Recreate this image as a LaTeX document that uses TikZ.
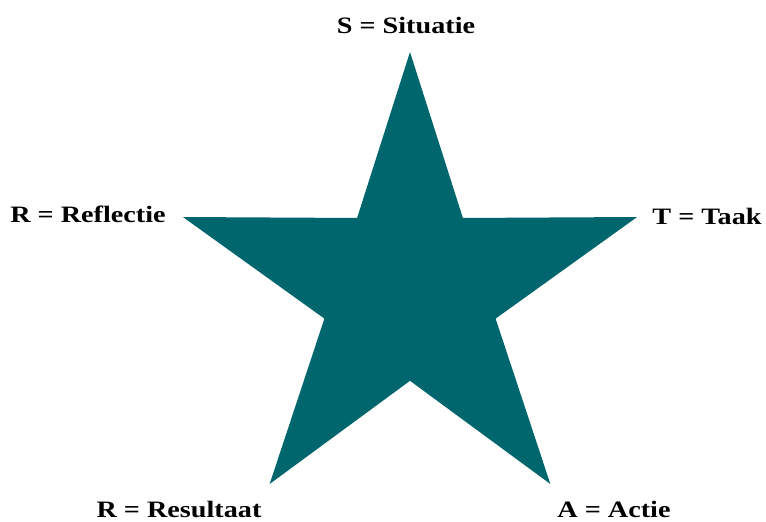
\documentclass[tikz,border=0pt]{standalone}
\usepackage{fontspec}
\setmainfont{Liberation Serif}[FakeStretch=1.2]
\usepackage{xcolor}
\usetikzlibrary{positioning, calc}
\definecolor{StarTeal}{HTML}{00666E}

\begin{document}
\begin{tikzpicture}[
    x=1pt, y=-1pt,
    lbl/.style={font=\fontsize{23.5}{26}\selectfont\bfseries, inner sep=0pt, text=black},
    starfill/.style={fill=StarTeal, draw=none}
]
\useasboundingbox (0,0) rectangle (766,522);

% star points
\coordinate (c) at (410,290.8);
\foreach \i in {0,...,4} {
    \coordinate (out\i) at ($(c)+({90-72*\i}:238.8pt)$);
    \coordinate (in\i) at ($(c)+({54-72*\i}:90pt)$);
}
\fill[starfill] (out0) -- (in0) -- (out1) -- (in1) -- (out2) -- (in2)
    -- (out3) -- (in3) -- (out4) -- (in4) -- cycle;

\node[lbl] (sit) at (406,25) {S = Situatie};
\node[lbl] (taak) at (707,216) {T = Taak};
\node[lbl] (act) at (614,509) {A = Actie};
\node[lbl] (res) at (179,509) {R = Resultaat};
\node[lbl] (refl) at (88,214) {R = Reflectie};

\end{tikzpicture}
\end{document}
